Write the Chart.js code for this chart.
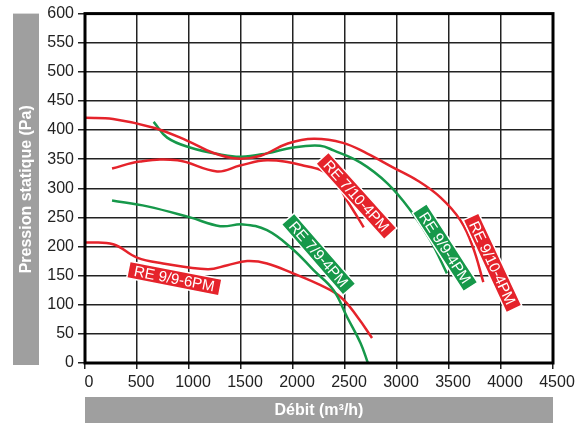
<!DOCTYPE html>
<html>
<head>
<meta charset="utf-8">
<script src="https://cdn.jsdelivr.net/npm/chart.js@4/dist/chart.umd.min.js"></script>
<style>
  html, body { margin: 0; padding: 0; background: #fff; }
  #wrap { width: 587px; height: 425px; }
</style>
</head>
<body>
<div id="wrap"><canvas id="grafico"></canvas></div>
<script>
// axes
const xTicks = [0, 500, 1000, 1500, 2000, 2500, 3000, 3500, 4000, 4500];
const yTicks = [0, 50, 100, 150, 200, 250, 300, 350, 400, 450, 500, 550, 600];

// curves (débit m3/h, pression Pa)
const re910_x = [0, 270, 660, 980, 1230, 1460, 1690, 1950, 2200, 2480, 2710, 2960, 3200, 3420, 3610, 3730, 3830];
const re910_y = [421, 419, 404, 382, 361, 351, 356, 377, 385, 378, 360, 336, 313, 284, 245, 199, 139];

const re99pm_x = [660, 790, 1010, 1300, 1500, 1750, 2000, 2260, 2390, 2650, 2910, 3130, 3320, 3480];
const re99pm_y = [414, 387, 370, 358, 354, 360, 370, 373, 365, 344, 308, 262, 211, 154];

const re710_x = [260, 530, 890, 1270, 1490, 1750, 2080, 2360, 2520, 2680];
const re710_y = [334, 346, 348, 329, 339, 348, 340, 322, 279, 233];

const re79_x = [260, 600, 1010, 1300, 1520, 1750, 2000, 2200, 2390, 2520, 2650, 2720];
const re79_y = [279, 269, 250, 235, 238, 228, 195, 159, 125, 79, 34, 0];

const re96_x = [0, 270, 500, 750, 1180, 1370, 1560, 1750, 2000, 2260, 2460, 2620, 2760];
const re96_y = [207, 204, 181, 171, 161, 168, 175, 171, 154, 134, 113, 79, 43];

const ROUGE = "#e5232b";
const VERT = "#16984a";

function serie(xs, ys) {
    return xs.map((x, i) => ({ x: x, y: ys[i] }));
}

function courbe(xs, ys, couleur) {
    return {
        data: serie(xs, ys),
        borderColor: couleur,
        borderWidth: 2.5,
        pointRadius: 0,
        fill: false,
        tension: 0.4
    };
}

// étiquettes sur les courbes
const etiquettes = [
    { texte: "RE 9/9-6PM", x: 859, y: 145, angle: 11, couleur: ROUGE },
    { texte: "RE 7/9-4PM", x: 2246, y: 187, angle: 49, couleur: VERT },
    { texte: "RE 7/10-4PM", x: 2609, y: 287, angle: 48, couleur: ROUGE },
    { texte: "RE 9/9-4PM", x: 3462, y: 198, angle: 57, couleur: VERT },
    { texte: "RE 9/10-4PM", x: 3918, y: 172, angle: 65, couleur: ROUGE }
];

const pluginEtiquettes = {
    id: "etiquettes",
    afterDatasetsDraw(chart) {
        const ctx = chart.ctx;
        const sx = chart.scales.x;
        const sy = chart.scales.y;
        ctx.save();
        ctx.font = "15px 'Liberation Sans', Arial, sans-serif";
        ctx.textAlign = "center";
        ctx.textBaseline = "middle";
        etiquettes.forEach(e => {
            const px = sx.getPixelForValue(e.x);
            const py = sy.getPixelForValue(e.y);
            const w = ctx.measureText(e.texte).width + 12;
            const h = 17;
            ctx.save();
            ctx.translate(px, py);
            ctx.rotate(e.angle * Math.PI / 180);
            ctx.fillStyle = e.couleur;
            ctx.strokeStyle = "#fff";
            ctx.lineWidth = 1.5;
            ctx.fillRect(-w / 2, -h / 2, w, h);
            ctx.strokeRect(-w / 2, -h / 2, w, h);
            ctx.fillStyle = "#fff";
            ctx.fillText(e.texte, 0, 1);
            ctx.restore();
        });
        ctx.restore();
    },
    afterDraw(chart) {
        const ctx = chart.ctx;
        const a = chart.chartArea;
        ctx.save();
        // cadre
        ctx.strokeStyle = "#000";
        ctx.lineWidth = 3;
        ctx.strokeRect(a.left, a.top, a.right - a.left, a.bottom - a.top);
        // titres sur fond gris
        ctx.fillStyle = "#9f9f9f";
        ctx.fillRect(13, a.top, 26, 365 - a.top);
        ctx.fillRect(a.left, 397, a.right - a.left, 26);
        ctx.fillStyle = "#fff";
        ctx.font = "bold 16px 'Liberation Sans', Arial, sans-serif";
        ctx.textAlign = "center";
        ctx.textBaseline = "middle";
        ctx.fillText("Débit (m³/h)", (a.left + a.right) / 2, 411);
        ctx.translate(26, (a.top + 365) / 2);
        ctx.rotate(-Math.PI / 2);
        ctx.fillText("Pression statique (Pa)", 0, 1);
        ctx.restore();
    }
};

const police = { family: "'Liberation Sans', Arial, sans-serif", size: 16 };

new Chart(document.getElementById("grafico").getContext("2d"), {
    type: "line",
    data: {
        datasets: [
            courbe(re910_x, re910_y, ROUGE),
            courbe(re99pm_x, re99pm_y, VERT),
            courbe(re710_x, re710_y, ROUGE),
            courbe(re79_x, re79_y, VERT),
            courbe(re96_x, re96_y, ROUGE)
        ]
    },
    options: {
        responsive: true,
        maintainAspectRatio: false,
        animation: false,
        layout: { padding: { top: 12, right: 34, left: 0, bottom: 0 } },
        plugins: {
            legend: { display: false },
            tooltip: { enabled: false }
        },
        scales: {
            x: {
                type: "linear",
                min: xTicks[0],
                max: xTicks[xTicks.length - 1],
                afterBuildTicks: s => { s.ticks = xTicks.map(v => ({ value: v })); },
                afterFit: s => { s.height = 62; },
                grid: { color: "#222", lineWidth: 1.5, tickLength: 6, tickColor: "#222" },
                border: { display: false },
                ticks: { color: "#222", font: police, padding: 4, labelOffset: 4, maxRotation: 0, callback: v => String(v) }
            },
            y: {
                min: yTicks[0],
                max: yTicks[yTicks.length - 1],
                afterBuildTicks: s => { s.ticks = yTicks.map(v => ({ value: v })); },
                afterFit: s => { s.width = 85; },
                grid: { color: "#222", lineWidth: 1.5, tickLength: 7, tickColor: "#222" },
                border: { display: false },
                ticks: { color: "#222", font: police, padding: 4, callback: v => String(v) }
            }
        }
    },
    plugins: [pluginEtiquettes]
});
</script>
</body>
</html>
